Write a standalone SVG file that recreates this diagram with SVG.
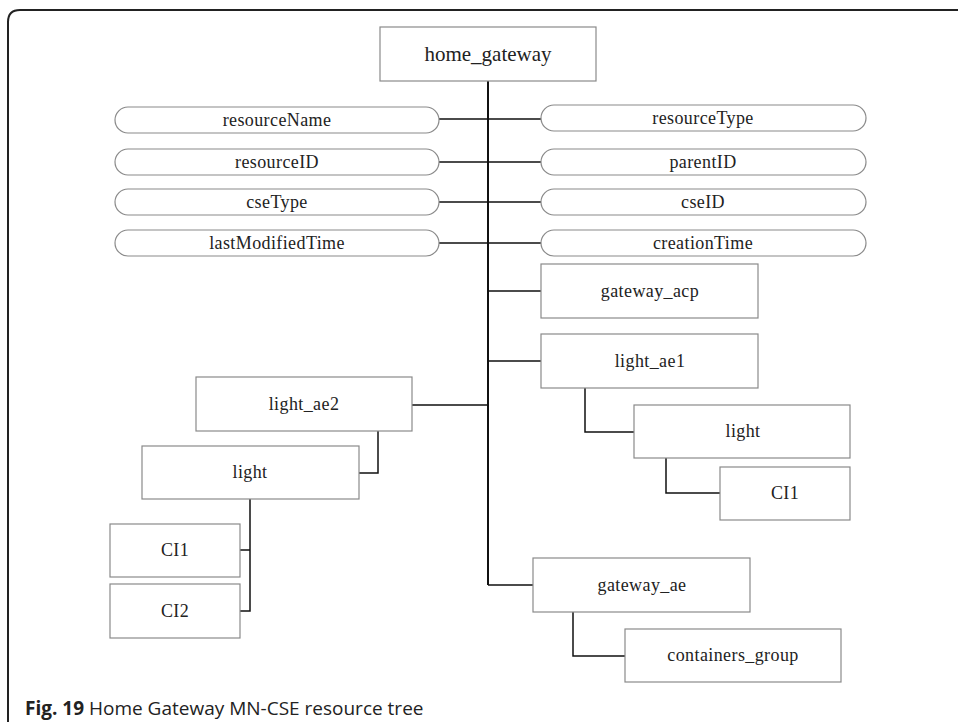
<svg xmlns="http://www.w3.org/2000/svg" width="958" height="722" viewBox="0 0 958 722">
<style>
.box{fill:#fff;stroke:#8a8a8a;stroke-width:1.2}
.pill{fill:#fff;stroke:#8a8a8a;stroke-width:1.2}
.lbl{font-family:"Liberation Serif","Times New Roman",serif;font-size:18px;letter-spacing:0.4px;fill:#222;text-anchor:middle}
.big{font-size:21px;letter-spacing:0}
.con{fill:none;stroke:#111;stroke-width:1.5}
</style>
<rect width="958" height="722" fill="#fff"/>
<path d="M8,722 V22 Q8,10 20,10 H958" fill="none" stroke="#222" stroke-width="2"/>
<g id="connectors">
<path class="con" d="M488,81 V585" style="stroke-width:2"/>
<path class="con" d="M439,119 H541 M439,162 H541 M439,202 H541 M439,243 H541"/>
<path class="con" d="M488,291 H541 M488,361 H541 M488,585 H533 M412,405 H488"/>
<path class="con" d="M585,388 V432 H634"/>
<path class="con" d="M666,458 V493 H720"/>
<path class="con" d="M573,612 V656 H625"/>
<path class="con" d="M378,431 V473 H359"/>
<path class="con" d="M250,499 V611 H240 M250,550 H240"/>
</g>
<g id="home_gateway"><rect class="box" x="380" y="27" width="216" height="54"/><text class="lbl big" x="488" y="61">home_gateway</text></g>
<g id="resourceName"><rect class="pill" x="115" y="107" width="324" height="26" rx="13"/><text class="lbl" x="277" y="126">resourceName</text></g>
<g id="resourceID"><rect class="pill" x="115" y="149" width="324" height="26" rx="13"/><text class="lbl" x="277" y="168">resourceID</text></g>
<g id="cseType"><rect class="pill" x="115" y="189" width="324" height="26" rx="13"/><text class="lbl" x="277" y="208">cseType</text></g>
<g id="lastModifiedTime"><rect class="pill" x="115" y="230" width="324" height="26" rx="13"/><text class="lbl" x="277" y="249">lastModifiedTime</text></g>
<g id="resourceType"><rect class="pill" x="541" y="105" width="325" height="26" rx="13"/><text class="lbl" x="703" y="124">resourceType</text></g>
<g id="parentID"><rect class="pill" x="541" y="149" width="325" height="26" rx="13"/><text class="lbl" x="703" y="168">parentID</text></g>
<g id="cseID"><rect class="pill" x="541" y="189" width="325" height="26" rx="13"/><text class="lbl" x="703" y="208">cseID</text></g>
<g id="creationTime"><rect class="pill" x="541" y="230" width="325" height="26" rx="13"/><text class="lbl" x="703" y="249">creationTime</text></g>
<g id="gateway_acp"><rect class="box" x="541" y="264" width="217" height="54"/><text class="lbl" x="650" y="297">gateway_acp</text></g>
<g id="light_ae1"><rect class="box" x="541" y="334" width="217" height="54"/><text class="lbl" x="650" y="367">light_ae1</text></g>
<g id="light_r"><rect class="box" x="634" y="405" width="216" height="53"/><text class="lbl" x="743" y="437">light</text></g>
<g id="CI1_r"><rect class="box" x="720" y="467" width="130" height="53"/><text class="lbl" x="785" y="499">CI1</text></g>
<g id="gateway_ae"><rect class="box" x="533" y="558" width="217" height="54"/><text class="lbl" x="642" y="591">gateway_ae</text></g>
<g id="containers_group"><rect class="box" x="625" y="629" width="216" height="53"/><text class="lbl" x="733" y="661">containers_group</text></g>
<g id="light_ae2"><rect class="box" x="196" y="377" width="216" height="54"/><text class="lbl" x="304" y="410">light_ae2</text></g>
<g id="light_l"><rect class="box" x="142" y="446" width="217" height="53"/><text class="lbl" x="250" y="478">light</text></g>
<g id="CI1_l"><rect class="box" x="110" y="524" width="130" height="53"/><text class="lbl" x="175" y="556">CI1</text></g>
<g id="CI2"><rect class="box" x="110" y="584" width="130" height="54"/><text class="lbl" x="175" y="617">CI2</text></g>
<text x="25" y="715" font-family="'Open Sans','Noto Sans',sans-serif" font-size="19" fill="#222"><tspan font-weight="bold">Fig. 19</tspan> Home Gateway MN-CSE resource tree</text>
</svg>
